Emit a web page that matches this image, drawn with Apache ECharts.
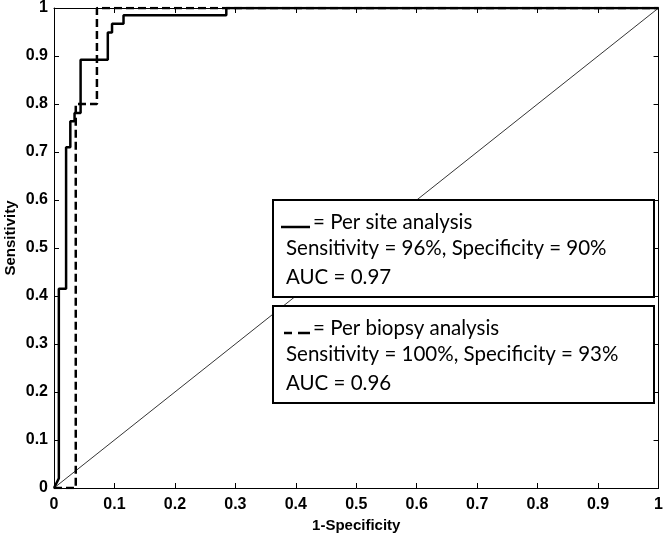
<!DOCTYPE html>
<html><head><meta charset="utf-8">
<script src="https://cdn.jsdelivr.net/npm/echarts@6/dist/echarts.min.js"></script>
<style>html,body{margin:0;padding:0;background:#fff}#c{width:666px;height:538px}</style>
</head><body><div id="c"></div>
<script>
// ROC curve data (1-Specificity, Sensitivity)
const siteX = [0, 0.008, 0.008, 0.020, 0.020, 0.027, 0.027, 0.034, 0.034, 0.044, 0.044, 0.089, 0.089, 0.096, 0.096, 0.115, 0.115, 0.285, 0.285, 1];
const siteY = [0, 0.02, 0.415, 0.415, 0.71, 0.71, 0.764, 0.764, 0.781, 0.781, 0.892, 0.892, 0.949, 0.949, 0.967, 0.967, 0.985, 0.985, 1, 1];
const biopsyX = [0, 0.036, 0.036, 0.071, 0.071, 1];
const biopsyY = [0, 0, 0.80, 0.80, 1, 1];
const refX = [0, 1];
const refY = [0, 1];
const xTicks = [0, 0.1, 0.2, 0.3, 0.4, 0.5, 0.6, 0.7, 0.8, 0.9, 1];
const yTicks = [0, 0.1, 0.2, 0.3, 0.4, 0.5, 0.6, 0.7, 0.8, 0.9, 1];
const xName = '1-Specificity';
const yName = 'Sensitivity';
const box1 = ['= Per site analysis', 'Sensitivity = 96%, Specificity = 90%', 'AUC = 0.97'];
const box2 = ['= Per biopsy analysis', 'Sensitivity = 100%, Specificity = 93%', 'AUC = 0.96'];

const pair = (xs, ys) => xs.map((x, i) => [x, ys[i]]);
const chart = echarts.init(document.getElementById('c'), null, {renderer: 'canvas'});
const tickFont = {color: '#000', fontFamily: 'Liberation Sans, Arial, sans-serif', fontWeight: 'bold', fontSize: 16};
const nameFont = {color: '#000', fontFamily: 'Liberation Sans, Arial, sans-serif', fontWeight: 'bold', fontSize: 15};
const fmt = v => (v === 0 ? '0' : v === 1 ? '1' : v.toFixed(1));
const boxFont = 'Lato, "Open Sans", sans-serif';
const boxFs = 20.5;

function boxGraphics(lines, top, dashed) {
  const g = [];
  g.push({type: 'rect', shape: {x: 273, y: top, width: 381, height: 97},
    style: {fill: '#fff', stroke: '#000', lineWidth: 2}, z: 100});
  if (dashed) {
    g.push({type: 'line', shape: {x1: 284, y1: top + 27, x2: 292, y2: top + 27}, style: {stroke: '#000', lineWidth: 2.5}, z: 101});
    g.push({type: 'line', shape: {x1: 298, y1: top + 27, x2: 310, y2: top + 27}, style: {stroke: '#000', lineWidth: 2.5}, z: 101});
  } else {
    g.push({type: 'line', shape: {x1: 281, y1: top + 27, x2: 310, y2: top + 27}, style: {stroke: '#000', lineWidth: 2.5}, z: 101});
  }
  g.push({type: 'text', x: 313, y: top + 22, style: {text: lines[0], font: boxFs + 'px ' + boxFont, fill: '#000', verticalAlign: 'middle'}, z: 101});
  g.push({type: 'text', x: 286, y: top + 48, style: {text: lines[1], font: boxFs + 'px ' + boxFont, fill: '#000', verticalAlign: 'middle'}, z: 101});
  g.push({type: 'text', x: 286, y: top + 77, style: {text: lines[2], font: boxFs + 'px ' + boxFont, fill: '#000', verticalAlign: 'middle'}, z: 101});
  return g;
}

const option = {
  animation: false,
  backgroundColor: '#fff',
  grid: {left: 54, right: 2, top: 8, bottom: 48, containLabel: false},
  xAxis: [
    {type: 'value', min: 0, max: 1, interval: 0.1, position: 'bottom',
     name: xName, nameLocation: 'middle', nameGap: 30,
     nameTextStyle: nameFont,
     axisLine: {onZero: false, lineStyle: {color: '#000', width: 1}},
     axisTick: {inside: true, length: 5, lineStyle: {color: '#000'}},
     axisLabel: Object.assign({margin: 9, formatter: fmt, customValues: xTicks}, tickFont),
     splitLine: {show: false}},
    {type: 'value', min: 0, max: 1, interval: 0.1, position: 'top',
     axisLine: {onZero: false, lineStyle: {color: '#000', width: 1}},
     axisTick: {inside: true, length: 5, lineStyle: {color: '#000'}},
     axisLabel: {show: false}, splitLine: {show: false}}
  ],
  yAxis: [
    {type: 'value', min: 0, max: 1, interval: 0.1, position: 'left',
     axisLine: {onZero: false, lineStyle: {color: '#000', width: 1}},
     axisTick: {inside: true, length: 5, lineStyle: {color: '#000'}},
     axisLabel: Object.assign({margin: 6, formatter: fmt, customValues: yTicks}, tickFont),
     splitLine: {show: false}},
    {type: 'value', min: 0, max: 1, interval: 0.1, position: 'right',
     axisLine: {onZero: false, lineStyle: {color: '#000', width: 1}},
     axisTick: {inside: true, length: 5, lineStyle: {color: '#000'}},
     axisLabel: {show: false}, splitLine: {show: false}}
  ],
  series: [
    {type: 'line', data: pair(refX, refY), symbol: 'none', lineStyle: {color: '#000', width: 0.8}, z: 1},
    {type: 'line', data: pair(biopsyX, biopsyY), symbol: 'none', lineStyle: {color: '#000', width: 2.5, type: [8, 4]}, z: 3},
    {type: 'line', data: pair(siteX, siteY), symbol: 'none', lineStyle: {color: '#000', width: 2.5}, z: 4}
  ],
  graphic: [
    {type: 'text', x: 11, y: 238, rotation: Math.PI / 2,
     style: {text: yName, font: 'bold 15px "Liberation Sans", Arial, sans-serif', fill: '#000', align: 'center', verticalAlign: 'middle'}}
  ].concat(boxGraphics(box1, 200, false)).concat(boxGraphics(box2, 306, true))
};
chart.setOption(option);
</script></body></html>
